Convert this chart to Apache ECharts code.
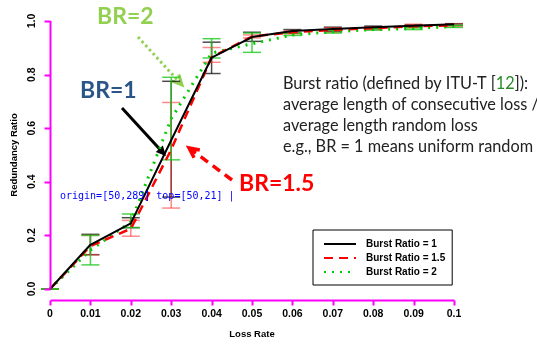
<!DOCTYPE html>
<html>
<head>
<meta charset="utf-8">
<script src="https://cdn.jsdelivr.net/npm/echarts@6/dist/echarts.min.js"></script>
<style>
  html, body { margin: 0; padding: 0; background: #fff; }
  #chart { width: 537px; height: 344px; }
  #err { position: absolute; left: 60px; top: 190px; font: 10px monospace; color: #00f; width: 240px; }
</style>
</head>
<body>
<div id="chart"></div>
<div id="err"></div>
<script>
window.onerror = function(msg, src, line, col) {
  document.getElementById('err').textContent += msg + ' @' + line + ':' + col + ' | ';
};
// 横轴：丢包率
const lossRate = [0, 0.01, 0.02, 0.03, 0.04, 0.05, 0.06, 0.07, 0.08, 0.09, 0.1];
const yTicks = [0, 0.2, 0.4, 0.6, 0.8, 1.0];

// Burst Ratio = 1
const br1Mean = [0, 0.165, 0.245, 0.555, 0.863, 0.94, 0.963, 0.97, 0.977, 0.982, 0.988];
const br1Low  = [0, 0.128, 0.229, 0.343, 0.804, 0.924, 0.955, 0.962, 0.972, 0.978, 0.984];
const br1High = [0, 0.204, 0.266, 0.775, 0.921, 0.958, 0.968, 0.977, 0.981, 0.986, 0.99];

// Burst Ratio = 1.5
const br15Mean = [0, 0.16, 0.225, 0.52, 0.865, 0.942, 0.958, 0.967, 0.973, 0.98, 0.984];
const br15Low  = [0, 0.128, 0.197, 0.302, 0.846, 0.937, 0.952, 0.958, 0.968, 0.975, 0.979];
const br15High = [0, 0.2, 0.256, 0.696, 0.901, 0.948, 0.964, 0.975, 0.978, 0.988, 0.989];

// Burst Ratio = 2
const br2Mean = [0, 0.145, 0.25, 0.635, 0.88, 0.915, 0.948, 0.96, 0.968, 0.972, 0.98];
const br2Low  = [0, 0.09, 0.229, 0.482, 0.862, 0.883, 0.946, 0.955, 0.966, 0.968, 0.976];
const br2High = [0, 0.2, 0.28, 0.79, 0.934, 0.955, 0.955, 0.966, 0.972, 0.975, 0.984];

const seriesNames = ['Burst Ratio = 1', 'Burst Ratio = 1.5', 'Burst Ratio = 2'];

function pairs(ys) {
  return lossRate.map((x, i) => [x, ys[i]]);
}
function bars(lo, hi) {
  return lossRate.map((x, i) => [x, lo[i], hi[i]]);
}

// 误差棒
function errorBar(name, lo, hi, color) {
  return {
    name: name,
    type: 'custom',
    data: bars(lo, hi),
    z: 1,
    silent: true,
    renderItem: function(params, api) {
      const p1 = api.coord([api.value(0), api.value(1)]);
      const p2 = api.coord([api.value(0), api.value(2)]);
      const w = 9;
      const st = { stroke: color, lineWidth: 1.5 };
      return {
        type: 'group',
        children: [
          { type: 'line', shape: { x1: p1[0], y1: p1[1], x2: p2[0], y2: p2[1] }, style: st },
          { type: 'line', shape: { x1: p1[0] - w, y1: p1[1], x2: p1[0] + w, y2: p1[1] }, style: st },
          { type: 'line', shape: { x1: p2[0] - w, y1: p2[1], x2: p2[0] + w, y2: p2[1] }, style: st }
        ]
      };
    }
  };
}

// 箭头（注释用）
function arrow(x1, y1, x2, y2, color, width, dash, filled) {
  const a = Math.atan2(y2 - y1, x2 - x1);
  const len = 11, spread = 0.45;
  const hx1 = x2 - len * Math.cos(a - spread), hy1 = y2 - len * Math.sin(a - spread);
  const hx2 = x2 - len * Math.cos(a + spread), hy2 = y2 - len * Math.sin(a + spread);
  const lineStyle = { stroke: color, lineWidth: width };
  if (dash) lineStyle.lineDash = dash;
  const items = [{
    type: 'line',
    shape: { x1: x1, y1: y1, x2: x2 - 2 * Math.cos(a), y2: y2 - 2 * Math.sin(a) },
    style: lineStyle
  }];
  if (filled) {
    items.push({
      type: 'polygon',
      shape: { points: [[x2, y2], [hx1, hy1], [hx2, hy2]] },
      style: { fill: color }
    });
  } else {
    items.push({
      type: 'polyline',
      shape: { points: [[hx1, hy1], [x2, y2], [hx2, hy2]] },
      style: { stroke: color, lineWidth: width, fill: 'none' }
    });
  }
  return items;
}

var chart = echarts.init(document.getElementById('chart'));

const boldAxis = { fontFamily: 'Liberation Sans, Arial', fontWeight: 'bold', fontSize: 10.5, color: '#000' };

try {
chart.setOption({
  animation: false,
  backgroundColor: '#fff',
  grid: { left: 50, right: 83, top: 21, bottom: 52 },
  xAxis: {
    type: 'value',
    min: 0, max: 0.1, interval: 0.01,
    name: 'Loss Rate',
    nameLocation: 'middle',
    nameGap: 40,
    nameTextStyle: Object.assign({}, boldAxis, { fontSize: 9.5 }),
    axisLine: { show: false },
    axisTick: { show: false },
    axisLabel: Object.assign({}, boldAxis, {
      margin: 20,
      formatter: v => (v === 0 ? '0' : String(+v.toFixed(2)))
    }),
    splitLine: { show: false }
  },
  yAxis: {
    type: 'value',
    min: 0, max: 1, interval: 0.2,
    name: 'Redundancy Ratio',
    nameLocation: 'middle',
    nameGap: 31,
    nameTextStyle: Object.assign({}, boldAxis, { fontSize: 9.5 }),
    axisLine: { show: false },
    axisTick: { show: false },
    axisLabel: Object.assign({}, boldAxis, {
      rotate: 90,
      margin: 12,
      formatter: v => v.toFixed(1)
    }),
    splitLine: { show: false }
  },
  legend: {
    data: seriesNames,
    orient: 'vertical',
    left: 313,
    top: 230,
    padding: [9, 7, 8, 10],
    itemGap: 4,
    itemWidth: 32,
    itemHeight: 10,
    itemStyle: { opacity: 0 },
    borderColor: '#000',
    borderWidth: 1,
    borderRadius: 0,
    backgroundColor: '#fff',
    textStyle: { fontFamily: 'Liberation Sans, Arial', fontWeight: 'bold', fontSize: 10, color: '#000', padding: [0, 0, 0, 5] }
  },
  series: [
    errorBar('eb1', br1Low, br1High, 'rgba(0,0,0,0.7)'),
    errorBar('eb15', br15Low, br15High, 'rgba(255,40,40,0.55)'),
    errorBar('eb2', br2Low, br2High, 'rgba(30,200,30,0.8)'),
    {
      name: seriesNames[0], type: 'line', data: pairs(br1Mean), symbol: 'none', z: 4,
      lineStyle: { color: '#000', width: 2 }, itemStyle: { color: '#000' }
    },
    {
      name: seriesNames[1], type: 'line', data: pairs(br15Mean), symbol: 'none', z: 3,
      lineStyle: { color: '#ff0000', width: 2.5, type: [9, 6] }, itemStyle: { color: '#ff0000' }
    },
    {
      name: seriesNames[2], type: 'line', data: pairs(br2Mean), symbol: 'none', z: 2,
      lineStyle: { color: '#00cc00', width: 3, type: [2, 6] }, itemStyle: { color: '#00cc00' }
    }
  ]
});
} catch (e) { document.getElementById('err').textContent += 'A:' + e.message + ' | '; }

// R 风格的坐标轴线（x 轴下移一点），位置用图表自己的比例尺换算
function px(x, y) { return chart.convertToPixel({ gridIndex: 0 }, [x, y]); }
const origin = px(0, 0);
const axisY = Math.round(origin[1]) + 11.5;
const axisX = Math.round(origin[0]) + 0.5;
const axisStyle = { stroke: '#f0f', lineWidth: 2 };
document.getElementById('err').textContent += 'origin=' + JSON.stringify(origin) + ' top=' + JSON.stringify(px(0, 1)) + ' | ';
const axisElems = [
  { type: 'line', z: 10, shape: { x1: axisX, y1: axisY, x2: Math.round(px(0.1, 0)[0]) + 0.5, y2: axisY }, style: axisStyle },
  { type: 'line', z: 10, shape: { x1: axisX, y1: origin[1], x2: axisX, y2: px(0, 1)[1] }, style: axisStyle }
];
lossRate.forEach(v => {
  const x = Math.round(px(v, 0)[0]) + 0.5;
  axisElems.push({ type: 'line', z: 10, shape: { x1: x, y1: axisY, x2: x, y2: axisY + 5 }, style: axisStyle });
});
yTicks.forEach(v => {
  const y = Math.round(px(0, v)[1]) + 0.5;
  axisElems.push({ type: 'line', z: 10, shape: { x1: axisX - 6, y1: y, x2: axisX, y2: y }, style: axisStyle });
});

const annotations = [
  { type: 'text', left: 97, top: 5, style: { text: 'BR=2', fill: '#92d050', font: 'bold 23px Lato, "Open Sans", sans-serif' } },
  { type: 'text', left: 80, top: 79, style: { text: 'BR=1', fill: '#2a5587', font: 'bold 23px Lato, "Open Sans", sans-serif' } },
  { type: 'text', left: 239, top: 172, style: { text: 'BR=1.5', fill: '#ff0000', font: 'bold 23px Lato, "Open Sans", sans-serif' } },
  {
    type: 'text', left: 283, top: 73,
    style: {
      text: 'Burst ratio (defined by ITU-T [{g|12}]):\naverage length of consecutive loss /\naverage length random loss\ne.g., BR = 1 means uniform random',
      fill: '#222',
      font: '16.3px Lato, "Open Sans", sans-serif',
      lineHeight: 21,
      rich: { g: { fill: '#2a8a2a', font: '16.3px Lato, "Open Sans", sans-serif', lineHeight: 21 } }
    }
  },
  { type: 'group', children: arrow(138, 37, 182, 85, '#92d050', 3, [2.5, 3], false) },
  { type: 'group', children: arrow(122, 108, 166, 156, '#000', 3, null, true) },
  { type: 'group', children: arrow(232, 180, 189, 148, '#ff0000', 3.5, [9, 6], false) }
];

try {
  chart.setOption({ graphic: annotations.concat(axisElems) });
} catch (e) { document.getElementById('err').textContent += 'B:' + e.message + ' | '; }
</script>
</body>
</html>
